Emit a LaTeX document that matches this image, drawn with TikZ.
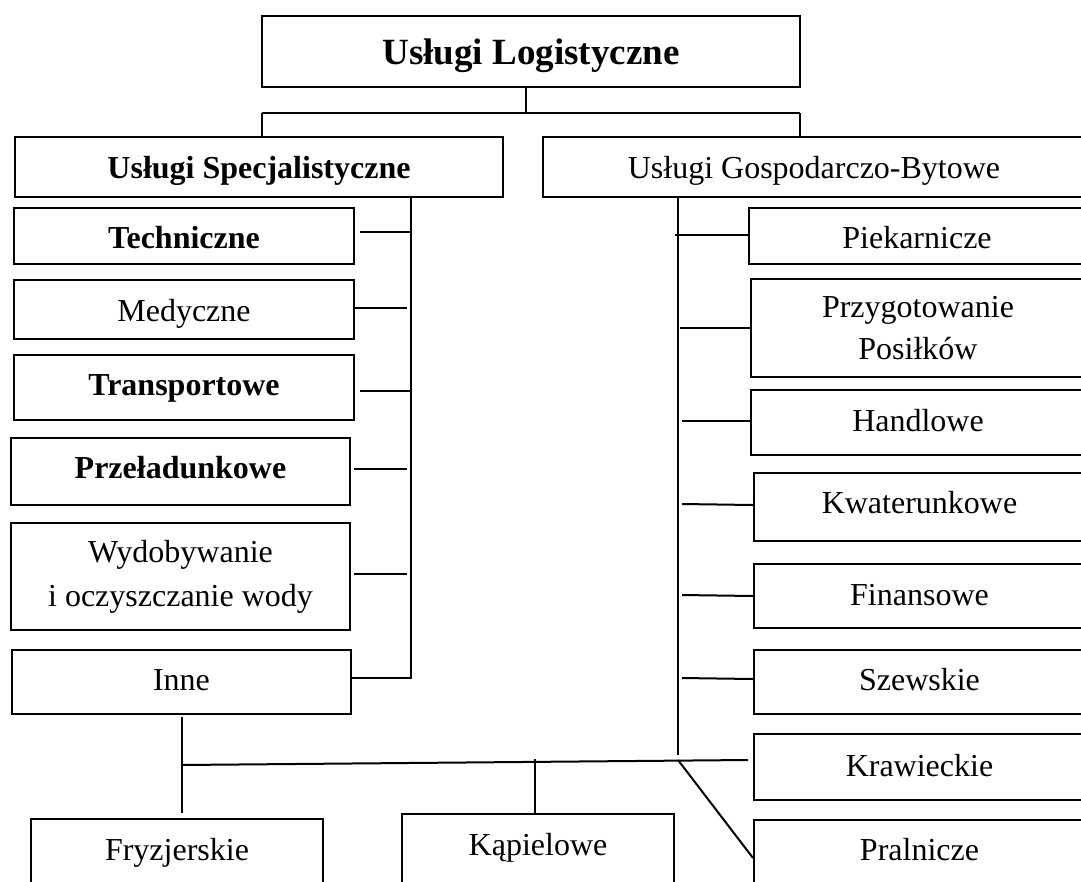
\documentclass[tikz,border=0pt]{standalone}
\usepackage{fontspec}
\setmainfont{Liberation Serif}
\begin{document}
\begin{tikzpicture}[x=1pt,y=-1pt,
  % single-line box: top edge at the given point, baseline set by text height
  box/.style={draw, line width=2pt, anchor=north, inner xsep=0pt, inner ysep=0pt,
    font=\fontsize{32}{38}\selectfont},
  % two-line box: centred
  tbox/.style={draw, line width=2pt, anchor=center, inner xsep=0pt, inner ysep=0pt,
    align=center},
  bf/.style={font=\fontsize{32}{38}\selectfont\bfseries},
  conn/.style={line width=2pt}]
\useasboundingbox (0,0) rectangle (1081,881);
\clip (0,0) rectangle (1081,881);

% root
\node[box, font=\fontsize{37}{44}\selectfont\bfseries, minimum width=538pt,
  text height=48pt, text depth=23pt] (root) at (531,15) {Usługi Logistyczne};

% two main branches
\node[box, bf, minimum width=488pt, text height=41pt, text depth=19pt] (spec) at (259,136) {Usługi Specjalistyczne};
\node[box, minimum width=542pt, text height=41pt, text depth=19pt] (gosp) at (814,136) {Usługi Gospodarczo-Bytowe};

% left column
\node[box, bf, minimum width=340pt, text height=40pt, text depth=16pt] (tech) at (184,207) {Techniczne};
\node[box, minimum width=340pt, text height=41pt, text depth=18pt] (med) at (184,279) {Medyczne};
\node[box, bf, minimum width=340pt, text height=40pt, text depth=25pt] (trans) at (184,354) {Transportowe};
\node[box, bf, minimum width=339pt, text height=40pt, text depth=27pt] (przel) at (180.5,437) {Przeładunkowe};
\node[tbox, minimum width=339pt, minimum height=107pt,
  font=\fontsize{32}{44}\selectfont] (wyd) at (180.5,576.5) {Wydobywanie\\i oczyszczanie wody};
\node[box, minimum width=339pt, text height=40pt, text depth=24pt] (inne) at (181.5,649) {Inne};

% right column
\node[box, minimum width=336pt, text height=40pt, text depth=16pt] (piek) at (917,207) {Piekarnicze};
\node[tbox, minimum width=334pt, minimum height=98pt,
  font=\fontsize{32}{42}\selectfont] (przyg) at (918,328) {Przygotowanie\\Posiłków};
\node[box, minimum width=334pt, text height=41pt, text depth=24pt] (handl) at (918,389) {Handlowe};
\node[box, minimum width=331pt, text height=40pt, text depth=28pt] (kwat) at (919.5,472) {Kwaterunkowe};
\node[box, minimum width=331pt, text height=41pt, text depth=23pt] (fin) at (919.5,563) {Finansowe};
\node[box, minimum width=331pt, text height=40pt, text depth=24pt] (szew) at (919.5,649) {Szewskie};
\node[box, minimum width=331pt, text height=42pt, text depth=24pt] (kraw) at (919.5,733) {Krawieckie};
\node[box, minimum width=331pt, text height=40pt, text depth=60pt] (pral) at (919.5,819) {Pralnicze};

% bottom row
\node[box, minimum width=292pt, text height=41pt, text depth=60pt] (fryz) at (177,818) {Fryzjerskie};
\node[box, minimum width=272pt, text height=41pt, text depth=60pt] (kap) at (538,813) {Kąpielowe};

% root to the two branches
\coordinate (jl) at (262,113);
\coordinate (jr) at (800,113);
\draw[conn] ([xshift=-5pt]root.south) -- ([xshift=-5pt]root.south |- jl);
\draw[conn] (jl) -- (jr);
\draw[conn] (jl) -- (jl |- spec.north);
\draw[conn] (jr) -- (jr |- gosp.north);

% left bus
\coordinate (lb) at (411,678);
\draw[conn] (lb |- spec.south) -- (lb) -- (lb -| inne.east);
\draw[conn] ([xshift=5pt,yshift=4pt]tech.east) -- ([yshift=4pt]tech.east -| lb);
\draw[conn] ([yshift=2pt]med.east) -- ([xshift=-4pt,yshift=2pt]med.east -| lb);
\draw[conn] ([xshift=5pt,yshift=-3pt]trans.east) -- ([yshift=-3pt]trans.east -| lb);
\draw[conn] ([xshift=3pt,yshift=3pt]przel.east) -- ([xshift=-4pt,yshift=3pt]przel.east -| lb);
\draw[conn] ([xshift=3pt,yshift=3pt]wyd.east) -- ([xshift=-4pt,yshift=3pt]wyd.east -| lb);

% right bus
\coordinate (rb) at (678,755);
\draw[conn] (rb |- gosp.south) -- (rb);
\draw[conn] ([xshift=-3pt,yshift=1pt]piek.west -| rb) -- ([yshift=1pt]piek.west);
\draw[conn] ([xshift=2pt]przyg.west -| rb) -- (przyg.west);
\draw[conn] ([xshift=4pt,yshift=2pt]handl.west -| rb) -- ([yshift=2pt]handl.west);
\draw[conn] ([xshift=4pt,yshift=3pt]kwat.west -| rb) -- ([yshift=2pt]kwat.west);
\draw[conn] ([xshift=4pt,yshift=1pt]fin.west -| rb) -- (fin.west);
\draw[conn] ([xshift=4pt,yshift=4pt]szew.west -| rb) -- ([yshift=3pt]szew.west);

% bottom distribution line
\coordinate (fork) at (181,765);
\coordinate (kr) at (748,760);
\coordinate (dg) at (678,760);
\draw[conn] ([yshift=-2pt]inne.south) -- ([yshift=5pt]inne.south |- fryz.north);
\draw[conn] (fork) -- (kr);
\draw[conn] ([xshift=-3.5pt]kap.north) -- ([xshift=-3.5pt]kap.north |- 0,759);
\draw[conn] (dg) -- ([yshift=12pt]pral.west);
\end{tikzpicture}
\end{document}
